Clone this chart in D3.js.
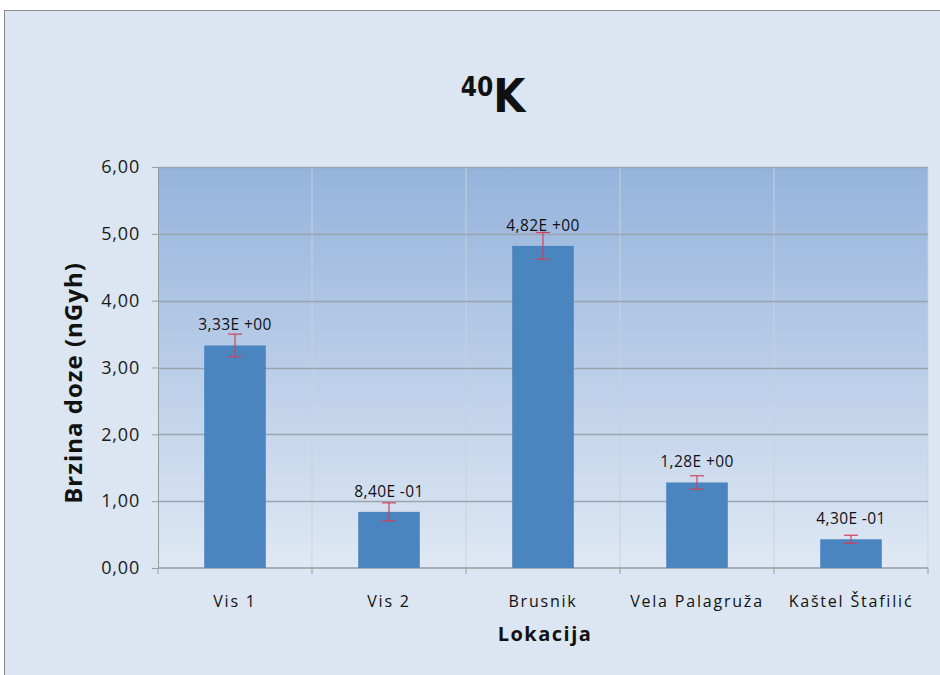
<!DOCTYPE html>
<html>
<head>
<meta charset="utf-8">
<script src="https://cdn.jsdelivr.net/npm/d3@7"></script>
<style>
  body { margin: 0; background: #fff; }
  text { font-family: "Open Sans", Lato, sans-serif; fill: #111; }
</style>
</head>
<body>
<script>
const locations = ["Vis 1", "Vis 2", "Brusnik", "Vela Palagruža", "Kaštel Štafilić"];
const doseRates = [3.33, 0.84, 4.82, 1.28, 0.43];
const errors    = [0.17, 0.135, 0.20, 0.10, 0.06];
const valueLabels = ["3,33E +00", "8,40E -01", "4,82E +00", "1,28E +00", "4,30E -01"];
const yTicks = [0, 1, 2, 3, 4, 5, 6];

const W = 940, H = 675;
const plot = {left: 158, right: 928, top: 167, bottom: 568};

const svg = d3.select("body").append("svg")
    .attr("width", W)
    .attr("height", H);

const defs = svg.append("defs");
const grad = defs.append("linearGradient")
    .attr("id", "plotbg")
    .attr("x1", 0).attr("y1", 0).attr("x2", 0).attr("y2", 1);
grad.append("stop").attr("offset", "0%").attr("stop-color", "#95b3dc");
grad.append("stop").attr("offset", "100%").attr("stop-color", "#dfe8f4");

// chart area frame
svg.append("rect")
    .attr("x", 4.5).attr("y", 10.5)
    .attr("width", W).attr("height", H)
    .attr("fill", "#dce6f2")
    .attr("stroke", "#8a8a8a");

const x = d3.scaleBand()
    .domain(locations)
    .range([plot.left, plot.right])
    .paddingInner(0.6)
    .paddingOuter(0.3);

const y = d3.scaleLinear()
    .domain([0, 6])
    .range([plot.bottom, plot.top]);

svg.append("rect")
    .attr("x", plot.left).attr("y", plot.top)
    .attr("width", plot.right - plot.left)
    .attr("height", plot.bottom - plot.top)
    .attr("fill", "url(#plotbg)");

// vertical separators between categories
const step = x.step();
const seps = d3.range(1, locations.length + 1).map(i => plot.left + i * step);
svg.append("g").selectAll("line")
    .data(seps)
    .enter().append("line")
    .attr("x1", d => d).attr("x2", d => d)
    .attr("y1", plot.top).attr("y2", plot.bottom)
    .attr("stroke", "#c9d1dc")
    .attr("stroke-width", 1);

// horizontal gridlines + y axis
const yAxis = d3.axisLeft(y)
    .tickValues(yTicks)
    .tickSize(6)
    .tickFormat(d => d3.format(".2f")(d).replace(".", ","));
const gy = svg.append("g")
    .attr("transform", `translate(${plot.left},0)`)
    .call(yAxis);
gy.select(".domain").attr("stroke", "#9a9a9a");
gy.selectAll(".tick line").attr("stroke", "#9a9a9a");
gy.selectAll(".tick text")
    .attr("x", -18)
    .style("font-size", "18px")
    .style("letter-spacing", "0.8px")
    .style("fill", "#1a1a1a");

svg.append("g").selectAll("line")
    .data(yTicks.filter(d => d > 0))
    .enter().append("line")
    .attr("x1", plot.left).attr("x2", plot.right)
    .attr("y1", d => Math.round(y(d)) + 0.5)
    .attr("y2", d => Math.round(y(d)) + 0.5)
    .attr("stroke", "#9aa3ae")
    .attr("stroke-width", 1.5);

// x axis
const gx = svg.append("g")
    .attr("transform", `translate(0,${plot.bottom})`);
gx.append("line")
    .attr("x1", plot.left).attr("x2", plot.right)
    .attr("stroke", "#9a9a9a").attr("stroke-width", 1.5);
gx.selectAll(".sep")
    .data([plot.left].concat(seps))
    .enter().append("line")
    .attr("class", "sep")
    .attr("x1", d => d).attr("x2", d => d)
    .attr("y1", 0).attr("y2", 6)
    .attr("stroke", "#9a9a9a");
gx.selectAll(".lab")
    .data(locations)
    .enter().append("text")
    .attr("class", "lab")
    .attr("x", d => x(d) + x.bandwidth() / 2)
    .attr("y", 39)
    .attr("text-anchor", "middle")
    .style("font-size", "16px")
    .style("letter-spacing", "1.8px")
    .text(d => d);

// bars
const data = locations.map((l, i) => ({loc: l, v: doseRates[i], e: errors[i], lab: valueLabels[i]}));
svg.append("g").selectAll("rect")
    .data(data)
    .enter().append("rect")
    .attr("x", d => x(d.loc))
    .attr("y", d => y(d.v))
    .attr("width", x.bandwidth())
    .attr("height", d => y(0) - y(d.v))
    .attr("fill", "#4a85bf");

// error bars
const eb = svg.append("g").attr("stroke", "#d0405a").attr("stroke-width", 1.2);
data.forEach(d => {
    const cx = x(d.loc) + x.bandwidth() / 2;
    eb.append("line").attr("x1", cx).attr("x2", cx).attr("y1", y(d.v + d.e)).attr("y2", y(d.v - d.e));
    eb.append("line").attr("x1", cx - 7).attr("x2", cx + 7).attr("y1", y(d.v + d.e)).attr("y2", y(d.v + d.e));
    eb.append("line").attr("x1", cx - 7).attr("x2", cx + 7).attr("y1", y(d.v - d.e)).attr("y2", y(d.v - d.e));
});

// value labels
svg.append("g").selectAll("text")
    .data(data)
    .enter().append("text")
    .attr("x", d => x(d.loc) + x.bandwidth() / 2)
    .attr("y", d => y(d.v) - 15)
    .attr("text-anchor", "middle")
    .style("font-size", "15.5px")
    .style("letter-spacing", "0.4px")
    .text(d => d.lab);

// title
const title = svg.append("text")
    .attr("x", 493)
    .attr("y", 112)
    .attr("text-anchor", "middle")
    .style("font-family", "'Liberation Sans Narrow', 'DejaVu Sans Condensed', sans-serif")
    .style("font-weight", "bold");
title.append("tspan")
    .attr("dy", -16)
    .style("font-size", "26px")
    .text("40");
title.append("tspan")
    .attr("dy", 16)
    .style("font-size", "46px")
    .text("K");

// axis titles
svg.append("text")
    .attr("transform", `translate(82,383) rotate(-90)`)
    .attr("text-anchor", "middle")
    .style("font-size", "24px")
    .style("font-weight", "bold")
    .style("letter-spacing", "1px")
    .text("Brzina doze (nGyh)");

svg.append("text")
    .attr("x", 545)
    .attr("y", 641)
    .attr("text-anchor", "middle")
    .style("font-size", "20px")
    .style("font-weight", "bold")
    .style("letter-spacing", "1.5px")
    .text("Lokacija");
</script>
</body>
</html>
